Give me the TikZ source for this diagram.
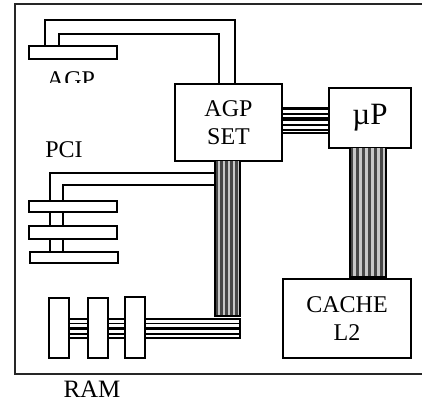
\documentclass[tikz,border=0pt]{standalone}
\usepackage{fontspec}
\setmainfont{Liberation Serif}
\tikzset{
  x=1pt,y=-1pt,
  frameline/.style={line width=1.6pt,draw=black!85},
  boxed/.style={draw=black,line width=1.6pt,fill=white,rectangle,inner sep=0pt,outer sep=0pt,anchor=north west,align=center},
  wire/.style={line width=1.6pt,draw=black},
  lab/.style={font=\fontsize{24}{28}\selectfont,align=center,inner sep=0pt},
  boxtext/.style={font=\fontsize{24}{27.5}\selectfont},
  busline/.style={draw=black,line width=1.5pt},
  busedge/.style={draw=black,line width=1.2pt},
}
\begin{document}
\begin{tikzpicture}
\useasboundingbox (0,0) rectangle (422,403);
% frame
\draw[frameline] (422,4) -- (15,4) -- (15,374) -- (422,374);
\node[boxed,minimum width=88pt,minimum height=13pt] (agpslot) at (29,46) {};
\node[boxed,minimum width=107pt,minimum height=77pt,boxtext] (agpset) at (175,84) {AGP\\SET};
\node[boxed,minimum width=82pt,minimum height=60pt,font=\fontsize{31}{34}\selectfont] (up) at (329,88) {\raisebox{-4pt}{µP}};
\node[boxed,minimum width=128pt,minimum height=79pt,boxtext] (cache) at (283,279) {CACHE\\L2};
\coordinate (s1) at (219,84);
\coordinate (s2) at (235,84);
\draw[wire] (45,46) -- (45,20) -- (235,20) -- (s2);
\draw[wire] (59,46) -- (59,34) -- (219,34) -- (s1);
% PCI wires
\draw[wire] (50,252) -- (50,173) -- (215,173);
\draw[wire] (63,252) -- (63,185) -- (215,185);
% vertical bus agp-ram
\fill[black!22] (215,161) rectangle (240,316);
\foreach \x in {215,220,225,230,235}{\fill[black!72] (\x,161) rectangle (\x+3.2,316);}
\draw[busedge] (215,161) -- (215,316) -- (240,316) -- (240,161);
% RAM bus
\draw[busedge,fill=white] (69,319) rectangle (240,338);
\draw[busline] (69,323.5) -- (240,323.5);
\draw[busline,line width=3.5pt] (69,328.5) -- (240,328.5);
\draw[busline] (69,334) -- (240,334);
% AGP set to uP bus
\draw[busedge,fill=white] (282,108) rectangle (329,133);
\draw[busline,line width=2.5pt] (282,109) -- (329,109);
\draw[busline] (282,114) -- (329,114);
\draw[busline,line width=3.5pt] (282,119) -- (329,119);
\draw[busline] (282,125) -- (329,125);
\draw[busline] (282,130) -- (329,130);
% uP to cache bus
\fill[black!22] (350,148) rectangle (386,277);
\foreach \x in {350,356,362,368,374,380}{\fill[black!72] (\x,148) rectangle (\x+3.4,277);}
\draw[busedge] (350,148) -- (350,277) -- (386,277) -- (386,148);
% PCI slots
\node[boxed,minimum width=88pt,minimum height=11pt] (pci1) at (29,201) {};
\node[boxed,minimum width=88pt,minimum height=13pt] (pci2) at (29,226) {};
\node[boxed,minimum width=88pt,minimum height=11pt] (pci3) at (30,252) {};
% RAM sticks
\node[boxed,minimum width=20pt,minimum height=60pt] (r1) at (49,298) {};
\node[boxed,minimum width=20pt,minimum height=60pt] (r2) at (88,298) {};
\node[boxed,minimum width=20pt,minimum height=61pt] (r3) at (125,297) {};
% labels
\begin{scope}
\clip (0,60) rectangle (200,83);
\node[lab,anchor=base] (agplab) at (71,88) {AGP};
\end{scope}
\node[lab,anchor=base] (pcilab) at (64,158) {PCI};
\node[lab,anchor=base,font=\fontsize{25}{28}\selectfont] (ramlab) at (92,397) {RAM};
\end{tikzpicture}
\end{document}
